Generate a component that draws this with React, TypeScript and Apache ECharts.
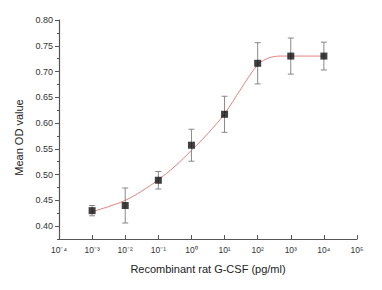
import React, { useEffect, useRef } from "react";
import * as echarts from "echarts";

// Concentrations (pg/ml) and measured mean OD
const concentrations = [1e-3, 1e-2, 1e-1, 1e0, 1e1, 1e2, 1e3, 1e4];
const meanOD = [0.430, 0.440, 0.489, 0.557, 0.617, 0.716, 0.730, 0.730];
const errOD = [0.010, 0.034, 0.017, 0.031, 0.035, 0.040, 0.035, 0.027];

// Fitted curve (log10 concentration -> OD)
const curveLogX = [-3, -2.5, -2, -1.5, -1, -0.5, 0, 0.5, 1, 1.5, 2, 2.25, 2.5, 2.75, 3, 3.5, 4];
const curveOD = [0.428, 0.438, 0.450, 0.468, 0.490, 0.516, 0.547, 0.580, 0.618, 0.667, 0.713, 0.724, 0.729, 0.730, 0.730, 0.730, 0.730];

const xTickExps = [-4, -3, -2, -1, 0, 1, 2, 3, 4, 5];
const yMajorTicks = [0.40, 0.45, 0.50, 0.55, 0.60, 0.65, 0.70, 0.75, 0.80];
const yMinorTicks = [0.375, 0.425, 0.475, 0.525, 0.575, 0.625, 0.675, 0.725, 0.775];
const supMap: Record<string, string> = {
  "-": "\u207B", "0": "\u2070", "1": "\u00B9", "2": "\u00B2", "3": "\u00B3",
  "4": "\u2074", "5": "\u2075", "6": "\u2076", "7": "\u2077", "8": "\u2078", "9": "\u2079",
};
const toSup = (n: number) => String(n).split("").map((c) => supMap[c] || c).join("");

export default function App() {
  const ref = useRef<HTMLDivElement>(null);
  useEffect(() => {
    if (!ref.current) return;
    const chart = echarts.init(ref.current, null, { renderer: "svg" });
    const pts = concentrations.map((c, i) => [Math.log10(c), meanOD[i], errOD[i]]);
    const axisColor = "#555";
    const font = "Arial, 'Liberation Sans', sans-serif";
    chart.setOption({
      animation: false,
      backgroundColor: "#fff",
      grid: { left: 59, right: 25, top: 20, bottom: 51 },
      xAxis: {
        type: "value",
        min: -4,
        max: 5,
        interval: 1,
        name: "Recombinant rat G-CSF (pg/ml)",
        nameLocation: "middle",
        nameGap: 24,
        nameTextStyle: { fontFamily: font, fontSize: 11, color: "#222" },
        axisLine: { onZero: false, lineStyle: { color: axisColor, width: 1.2 } },
        axisTick: { inside: true, length: 4, lineStyle: { color: axisColor } },
        splitLine: { show: false },
        axisLabel: {
          fontFamily: font,
          fontSize: 8.5,
          color: "#333",
          margin: 6,
          formatter: (v: number) => (xTickExps.includes(v) ? "10" + toSup(v) : ""),
        },
      },
      yAxis: [
        {
          type: "value",
          min: 0.375,
          max: 0.8,
          name: "Mean OD value",
          nameLocation: "middle",
          nameGap: 27,
          nameTextStyle: { fontFamily: font, fontSize: 11, color: "#222", padding: [0, 16, 0, 0] },
          axisLine: { show: true, onZero: false, lineStyle: { color: axisColor, width: 1.2 } },
          axisTick: { show: true, length: 4, customValues: yMajorTicks, lineStyle: { color: axisColor } },
          splitLine: { show: false },
          axisLabel: {
            fontFamily: font,
            fontSize: 9,
            color: "#333",
            margin: 6,
            customValues: yMajorTicks,
            formatter: (v: number) => v.toFixed(2),
          },
        },
        {
          type: "value",
          position: "left",
          min: 0.375,
          max: 0.8,
          axisLine: { show: false, onZero: false },
          axisTick: { show: true, length: 2, customValues: yMinorTicks, lineStyle: { color: axisColor } },
          axisLabel: { show: false },
          splitLine: { show: false },
        },
      ],
      series: [
        {
          type: "line",
          data: curveLogX.map((x, i) => [x, curveOD[i]]),
          smooth: 0.4,
          showSymbol: false,
          lineStyle: { color: "#e58080", width: 1 },
          z: 2,
        },
        {
          type: "custom",
          data: pts,
          z: 3,
          renderItem: (params: any, api: any) => {
            const x = api.value(0);
            const y = api.value(1);
            const e = api.value(2);
            const top = api.coord([x, y + e]);
            const bot = api.coord([x, y - e]);
            const w = 3;
            const style = { stroke: "#888", lineWidth: 1 };
            return {
              type: "group",
              children: [
                { type: "line", shape: { x1: top[0], y1: top[1], x2: bot[0], y2: bot[1] }, style },
                { type: "line", shape: { x1: top[0] - w, y1: top[1], x2: top[0] + w, y2: top[1] }, style },
                { type: "line", shape: { x1: bot[0] - w, y1: bot[1], x2: bot[0] + w, y2: bot[1] }, style },
              ],
            };
          },
        },
        {
          type: "scatter",
          data: pts.map((p) => [p[0], p[1]]),
          symbol: "rect",
          symbolSize: 7,
          itemStyle: { color: "#111" },
          z: 4,
        },
      ],
    });
    return () => chart.dispose();
  }, []);
  return <div ref={ref} style={{ width: 382, height: 290, margin: -8 }} />;
}
